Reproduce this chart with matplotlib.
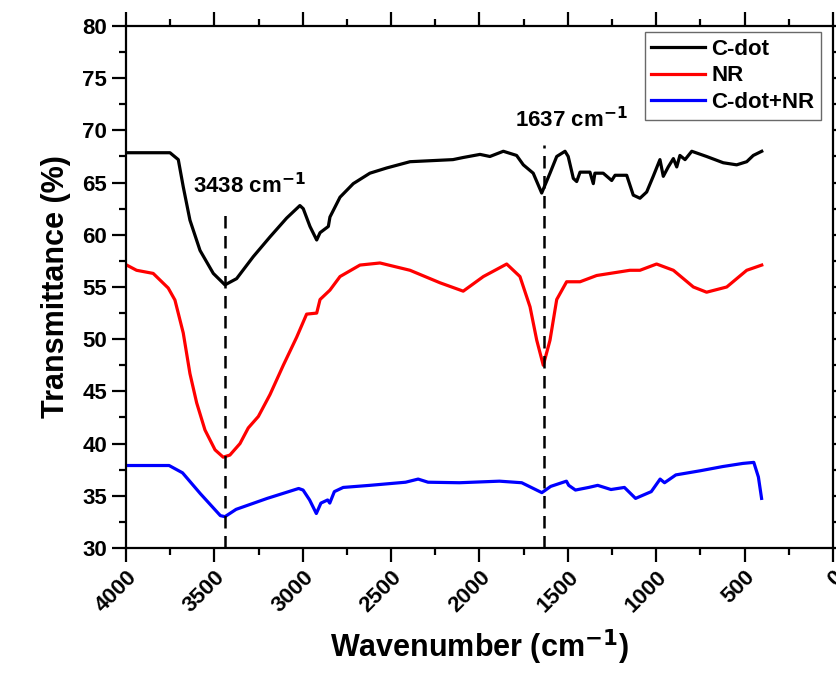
import numpy as np
import matplotlib
matplotlib.use("Agg")
from matplotlib import pyplot as plt
from matplotlib.ticker import MultipleLocator

plt.rcParams["font.family"] = ["Liberation Sans", "DejaVu Sans"]
plt.rcParams["font.weight"] = "bold"
plt.rcParams["mathtext.default"] = "bf"

# C-dot spectrum (wavenumber, transmittance)
cdot_x = [3996, 3751, 3704, 3676, 3638, 3581, 3506, 3440, 3374, 3280, 3185, 3091,
          3016, 2997, 2959, 2921, 2902, 2855, 2846, 2789, 2714, 2620, 2525, 2393,
          2150, 2093, 1997, 1941, 1865, 1790, 1752, 1696, 1648, 1601, 1563, 1516,
          1498, 1469, 1450, 1431, 1375, 1356, 1347, 1300, 1252, 1233, 1167, 1130,
          1092, 1054, 1017, 979, 960, 932, 903, 884, 866, 837, 799, 715, 621, 545,
          488, 451, 403]
cdot_y = [67.86, 67.86, 67.2, 64.6, 61.4, 58.5, 56.3, 55.2, 55.8, 57.9, 59.8, 61.6,
          62.8, 62.5, 60.8, 59.5, 60.2, 60.8, 61.7, 63.6, 64.9, 65.9, 66.4, 67.0,
          67.2, 67.4, 67.7, 67.5, 68.0, 67.6, 66.7, 65.9, 64.0, 65.9, 67.5, 68.0,
          67.5, 65.4, 65.1, 66.0, 66.0, 64.9, 65.9, 65.9, 65.2, 65.7, 65.7, 63.8,
          63.5, 64.1, 65.6, 67.2, 65.6, 66.5, 67.3, 66.5, 67.6, 67.2, 68.0, 67.5,
          66.9, 66.7, 67.0, 67.6, 68.0]

# NR spectrum
nr_x = [3996, 3940, 3846, 3761, 3723, 3676, 3638, 3600, 3553, 3496, 3450, 3412,
        3355, 3308, 3251, 3185, 3110, 3034, 2978, 2921, 2902, 2846, 2789, 2676,
        2563, 2393, 2223, 2092, 1978, 1846, 1771, 1714, 1676, 1639, 1601, 1563,
        1507, 1431, 1337, 1149, 1092, 998, 903, 790, 715, 601, 488, 403]
nr_y = [57.1, 56.6, 56.3, 54.9, 53.75, 50.6, 46.7, 43.9, 41.3, 39.4, 38.7, 38.9,
        40.0, 41.5, 42.6, 44.7, 47.5, 50.2, 52.4, 52.5, 53.8, 54.7, 56.0, 57.1,
        57.3, 56.6, 55.4, 54.6, 56.0, 57.2, 56.0, 53.1, 49.9, 47.5, 49.9, 53.8,
        55.5, 55.5, 56.1, 56.6, 56.6, 57.2, 56.6, 55.0, 54.5, 55.0, 56.6, 57.1]

# C-dot+NR spectrum
mix_x = [3996, 3756, 3680, 3579, 3466, 3440, 3377, 3201, 3023, 2998, 2961, 2923,
         2897, 2859, 2847, 2821, 2771, 2620, 2418, 2347, 2291, 2114, 1887, 1761,
         1647, 1597, 1508, 1495, 1457, 1382, 1331, 1256, 1180, 1117, 1028, 978,
         953, 889, 750, 624, 510, 448, 422, 404]
mix_y = [37.9, 37.9, 37.2, 35.2, 33.1, 33.0, 33.7, 34.75, 35.7, 35.55, 34.6, 33.3,
         34.3, 34.6, 34.3, 35.4, 35.8, 36.0, 36.3, 36.6, 36.3, 36.25, 36.4, 36.25,
         35.3, 35.9, 36.4, 36.0, 35.55, 35.8, 36.0, 35.6, 35.8, 34.75, 35.4, 36.6,
         36.25, 37.0, 37.4, 37.8, 38.1, 38.2, 36.8, 34.75]

peaks = [3438, 1637]
peak_tops = [61.9, 68.6]
peak_labels = ["3438 cm$^{-1}$", "1637 cm$^{-1}$"]
label_pos = [(3623, 64.0), (1799, 70.35)]

fig = plt.figure(figsize=(8.37, 6.82), dpi=100)
ax = fig.add_axes([0.1505, 0.1965, 0.8447, 0.7654])

ax.plot(cdot_x, cdot_y, color="black", lw=2.3, label="C-dot")
ax.plot(nr_x, nr_y, color="red", lw=2.3, label="NR")
ax.plot(mix_x, mix_y, color="blue", lw=2.3, label="C-dot+NR")

for p, top, lab, pos in zip(peaks, peak_tops, peak_labels, label_pos):
    ax.plot([p, p], [30, top], color="black", lw=1.8, ls=(0, (5, 3)))
    ax.text(pos[0], pos[1], lab, fontsize=16, fontweight="bold", ha="left", va="baseline")

ax.set_xlim(4000, 0)
ax.set_ylim(30, 80)
ax.xaxis.set_major_locator(MultipleLocator(500))
ax.xaxis.set_minor_locator(MultipleLocator(250))
ax.yaxis.set_major_locator(MultipleLocator(5))
ax.yaxis.set_minor_locator(MultipleLocator(2.5))

for s in ax.spines.values():
    s.set_linewidth(1.6)
ax.tick_params(which="both", direction="out", top=True, right=True, width=1.6)
ax.tick_params(which="major", length=10, labelsize=16)
ax.tick_params(which="minor", length=5)
for lbl in ax.get_xticklabels():
    lbl.set_rotation(45)
    lbl.set_ha("right")
    lbl.set_rotation_mode("anchor")
    lbl.set_fontweight("bold")
for lbl in ax.get_yticklabels():
    lbl.set_fontweight("bold")

ax.set_xlabel("Wavenumber (cm$^{-1}$)", fontsize=22, fontweight="bold", labelpad=8)
ax.set_ylabel("Transmittance (%)", fontsize=22, fontweight="bold", labelpad=8)

leg = ax.legend(loc="upper right", bbox_to_anchor=(0.983, 0.988), fontsize=16,
                frameon=True, fancybox=False, edgecolor="#444444",
                handlelength=2.4, handletextpad=0.3, labelspacing=0.25,
                borderpad=0.3, borderaxespad=0)
leg.get_frame().set_linewidth(1.0)
for t in leg.get_texts():
    t.set_fontweight("bold")

fig.savefig("out.png", dpi=100)
